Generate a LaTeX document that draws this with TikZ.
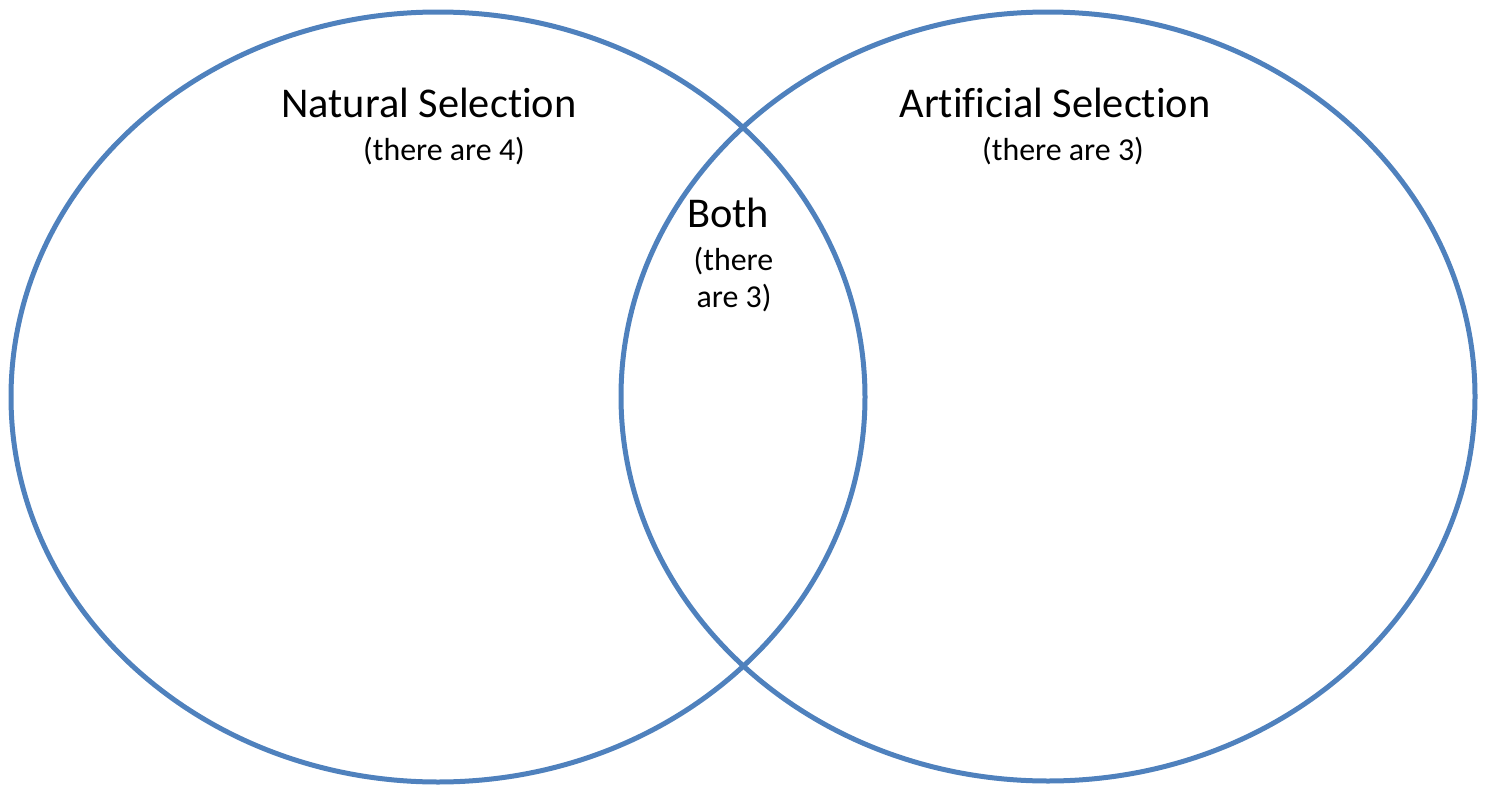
\documentclass[tikz,border=0pt]{standalone}
\usepackage{fontspec}
\setmainfont{Carlito}[Ligatures=NoCommon]
\definecolor{vennblue}{HTML}{4F81BD}
\begin{document}
\begin{tikzpicture}[x=1pt,y=-1pt,
  ring/.style={draw=vennblue,line width=5pt},
  big/.style={font=\fontsize{42.4}{48}\selectfont,anchor=base,inner sep=0pt},
  small/.style={font=\fontsize{31.9}{36}\selectfont,anchor=base,inner sep=0pt}]
\useasboundingbox (0,0) rectangle (1489,790);
\draw[ring] (438,397) ellipse [x radius=427, y radius=385];
\draw[ring] (1048,396.5) ellipse [x radius=427, y radius=384.5];
\node[big] (ns) at (429,117) {Natural Selection};
\node[small] (ns4) at (444,160) {(there are 4)};
\node[big] (as) at (1055,117) {Artificial Selection};
\node[small] (as3) at (1063,160) {(there are 3)};
\node[big] (both) at (728,227) {Both};
\node[small] (b1) at (733.5,270) {(there};
\node[small] (b2) at (734,307) {are 3)};
\end{tikzpicture}
\end{document}
